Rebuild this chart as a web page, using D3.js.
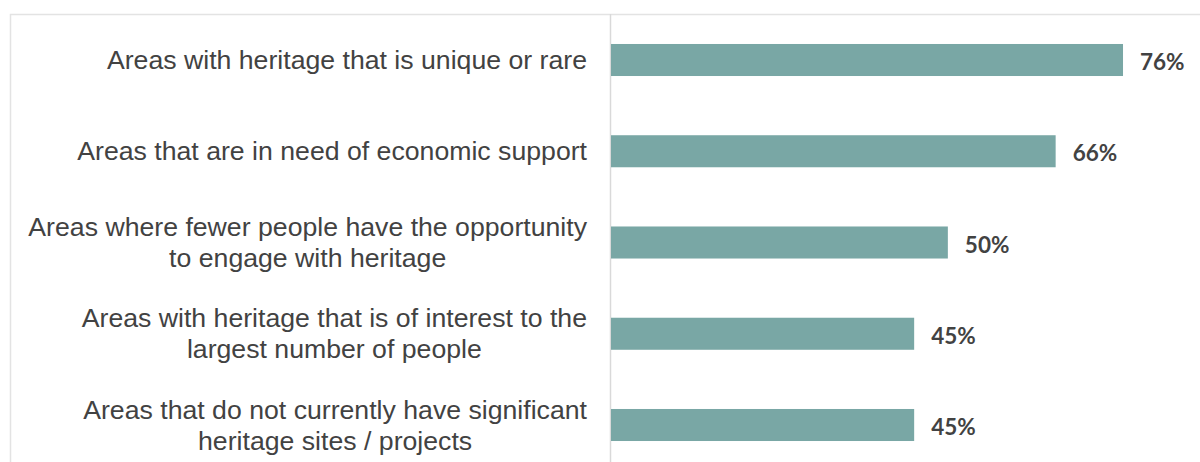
<!DOCTYPE html>
<html>
<head>
<meta charset="utf-8">
<script src="https://cdn.jsdelivr.net/npm/d3@7"></script>
<style>
  html, body { margin: 0; padding: 0; background: #ffffff; }
  svg { display: block; }
</style>
</head>
<body>
<svg id="chart" width="1200" height="462"></svg>
<script>
// Share of respondents choosing each type of area
const categories = [
  ["Areas with heritage that is unique or rare"],
  ["Areas that are in need of economic support"],
  ["Areas where fewer people have the opportunity", "to engage with heritage"],
  ["Areas with heritage that is of interest to the", "largest number of people"],
  ["Areas that do not currently have significant", "heritage sites / projects"]
];
const values = [76, 66, 50, 45, 45];
const valueLabels = ["76%", "66%", "50%", "45%", "45%"];

const svg = d3.select("#chart");
const W = 1200, H = 462;

const axisX = 610.5;
const barColor = "#79a7a5";
const textColor = "#424242";

// Outer frame (continues past the right and bottom edges)
svg.append("rect")
  .attr("x", 10.5).attr("y", 14.5)
  .attr("width", 1210).attr("height", 470)
  .attr("fill", "none")
  .attr("stroke", "#e3e3e3")
  .attr("stroke-width", 1.5);

const keys = categories.map((c, i) => i);
const y = d3.scaleBand()
  .domain(keys)
  .range([14.375, 470.625])
  .paddingInner(0.649)
  .paddingOuter(0.3245);

const x = d3.scaleLinear()
  .domain([0, 100])
  .range([611, 611 + 673.7]);

// Category axis line
svg.append("line")
  .attr("x1", axisX).attr("x2", axisX)
  .attr("y1", 14).attr("y2", H)
  .attr("stroke", "#d9d9d9")
  .attr("stroke-width", 1.5);

// Bars
svg.append("g").selectAll("rect")
  .data(values)
  .join("rect")
  .attr("x", x(0))
  .attr("y", (d, i) => y(i))
  .attr("width", d => x(d) - x(0))
  .attr("height", y.bandwidth())
  .attr("fill", barColor);

// Value labels
svg.append("g").selectAll("text")
  .data(values)
  .join("text")
  .attr("x", d => x(d) + 17)
  .attr("y", (d, i) => y(i) + y.bandwidth() / 2 + 1.5)
  .attr("dominant-baseline", "central")
  .attr("font-family", "Lato, 'Open Sans', sans-serif")
  .attr("font-weight", 700)
  .attr("font-size", "22.5px")
  .attr("fill", textColor)
  .text((d, i) => valueLabels[i]);

// Category labels, lines centred on each other, right-aligned as a block
const lineH = 31;
const labelRight = 587;
const labels = svg.append("g")
  .attr("font-family", "'Liberation Sans', Arial, sans-serif")
  .attr("font-size", "26.67px")
  .attr("fill", textColor);

categories.forEach((lines, i) => {
  const cy = y(i) + y.bandwidth() / 2;
  const t = labels.append("text").attr("text-anchor", "middle");
  const spans = lines.map((line, j) =>
    t.append("tspan")
      .attr("y", cy + (j - (lines.length - 1) / 2) * lineH)
      .attr("dominant-baseline", "central")
      .text(line)
  );
  const maxW = d3.max(spans, s => s.node().getComputedTextLength());
  spans.forEach(s => s.attr("x", labelRight - maxW / 2));
});
</script>
</body>
</html>
